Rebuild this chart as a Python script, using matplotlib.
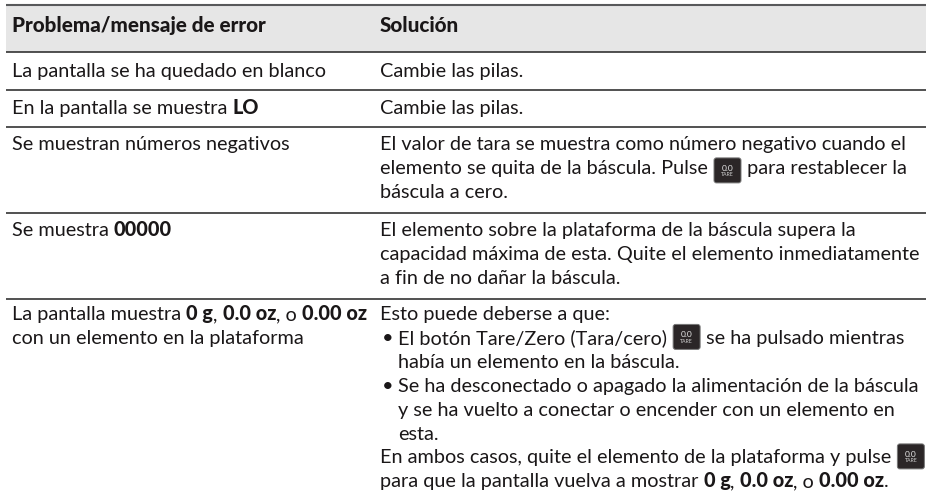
"""Tabla de problemas / soluciones de la bascula."""
import matplotlib
matplotlib.use("Agg")
import matplotlib.pyplot as plt
from matplotlib.patches import FancyBboxPatch, Rectangle

# ── contenido ─────────────────────────────────────────────────────────────────
HEADERS = ["Problema/mensaje de error", "Solución"]

PROBLEMS = [
    ["La pantalla se ha quedado en blanco"],
    ["En la pantalla se muestra **LO**"],
    ["Se muestran números negativos"],
    ["Se muestra **00000**"],
    ["La pantalla muestra **0 g**, **0.0 oz**, o **0.00 oz**",
     "con un elemento en la plataforma"],
]

SOLUTIONS = [
    ["Cambie las pilas."],
    ["Cambie las pilas."],
    ["El valor de tara se muestra como número negativo cuando el",
     "elemento se quita de la báscula. Pulse [T] para restablecer la",
     "báscula a cero."],
    ["El elemento sobre la plataforma de la báscula supera la",
     "capacidad máxima de esta. Quite el elemento inmediatamente",
     "a fin de no dañar la báscula."],
    ["Esto puede deberse a que:",
     "• El botón Tare/Zero (Tara/cero) [T] se ha pulsado mientras",
     "  había un elemento en la báscula.",
     "• Se ha desconectado o apagado la alimentación de la báscula",
     "  y se ha vuelto a conectar o encender con un elemento en",
     "  esta.",
     "En ambos casos, quite el elemento de la plataforma y pulse [T]",
     "para que la pantalla vuelva a mostrar **0 g**, **0.0 oz**, o **0.00 oz**."],
]

# ── layout (pixels) ───────────────────────────────────────────────────────────
W, H = 926, 499
FONT = "Lato"
SIZE = 14.3
HEAD_SIZE = 14.9
BOLD = 900
INK = "#1a1718"
LEFT, COL1, COL2 = 6, 12, 380
RULES = [52, 90, 127, 213, 298.5]
FIRST_BASE = [76.5, 114, 150, 236, 320]
LEAD = 23.9
ICON_W, ICON_H = 29, 27

plt.rcParams["font.family"] = FONT
fig = plt.figure(figsize=(W / 100, H / 100), dpi=100)
ax = fig.add_axes([0, 0, 1, 1])
ax.set_xlim(0, W); ax.set_ylim(H, 0); ax.axis("off")
rend = fig.canvas.get_renderer()


def run_width(s, weight, size):
    # the x's keep the leading/trailing blanks in the measure
    t = ax.text(0, 0, "x" + s + "x", fontsize=size, fontweight=weight)
    w = t.get_window_extent(rend).width
    t.set_text("xx")
    w -= t.get_window_extent(rend).width
    t.remove()
    return w


def tare_icon(x, base):
    # the icon in the third row sits a little lower than the others
    y = base - (17 if base < 200 else 20.5)
    ax.add_patch(FancyBboxPatch((x + 1, y + 1), ICON_W - 2, ICON_H - 2,
                                boxstyle="round,pad=0,rounding_size=2.5",
                                fc="#2b2627", ec="#777777", lw=0.7))
    ax.text(x + ICON_W / 2, y + 11.5, "0.0", color="#e8e8e8", fontsize=6, ha="center", va="center")
    ax.text(x + ICON_W / 2, y + 18, "TARE", color="#cfcfcf", fontsize=3.8, ha="center", va="center")


def draw_line(x, base, line, weight="normal", size=SIZE):
    bold = False
    for chunk in line.split("**"):
        parts = chunk.split("[T]")
        for i, part in enumerate(parts):
            if i > 0:
                tare_icon(x, base)
                x += ICON_W
            w_ = BOLD if bold else weight
            if part:
                ax.text(x, base, part, fontsize=size, fontweight=w_, color=INK, va="baseline", ha="left")
                x += run_width(part, w_, size)
        bold = not bold


# ── dibujo ────────────────────────────────────────────────────────────────────
ax.add_patch(Rectangle((LEFT, 5), W - LEFT, 47, fc="#e6e6e6", ec="none"))
ax.plot([LEFT, W], [5, 5], color="#58595b", lw=1.5, solid_capstyle="butt")
for y in RULES:
    ax.plot([LEFT, W], [y, y], color="#333333", lw=1.2, solid_capstyle="butt")

draw_line(COL1, 32, HEADERS[0], BOLD, HEAD_SIZE)
draw_line(COL2, 32, HEADERS[1], BOLD, HEAD_SIZE)

for base, prob, sol in zip(FIRST_BASE, PROBLEMS, SOLUTIONS):
    for i, line in enumerate(prob):
        draw_line(COL1, base + i * LEAD, line)
    for i, line in enumerate(sol):
        xs = COL2
        if line.startswith("• "):
            ax.text(COL2 + 2, base + i * LEAD, "•", fontsize=SIZE, color=INK, va="baseline")
            line = line[2:]
            xs = COL2 + 18
        elif line.startswith("  "):
            line = line[2:]
            xs = COL2 + 18
        draw_line(xs, base + i * LEAD, line)

fig.savefig("out.png", dpi=100, facecolor="white")
